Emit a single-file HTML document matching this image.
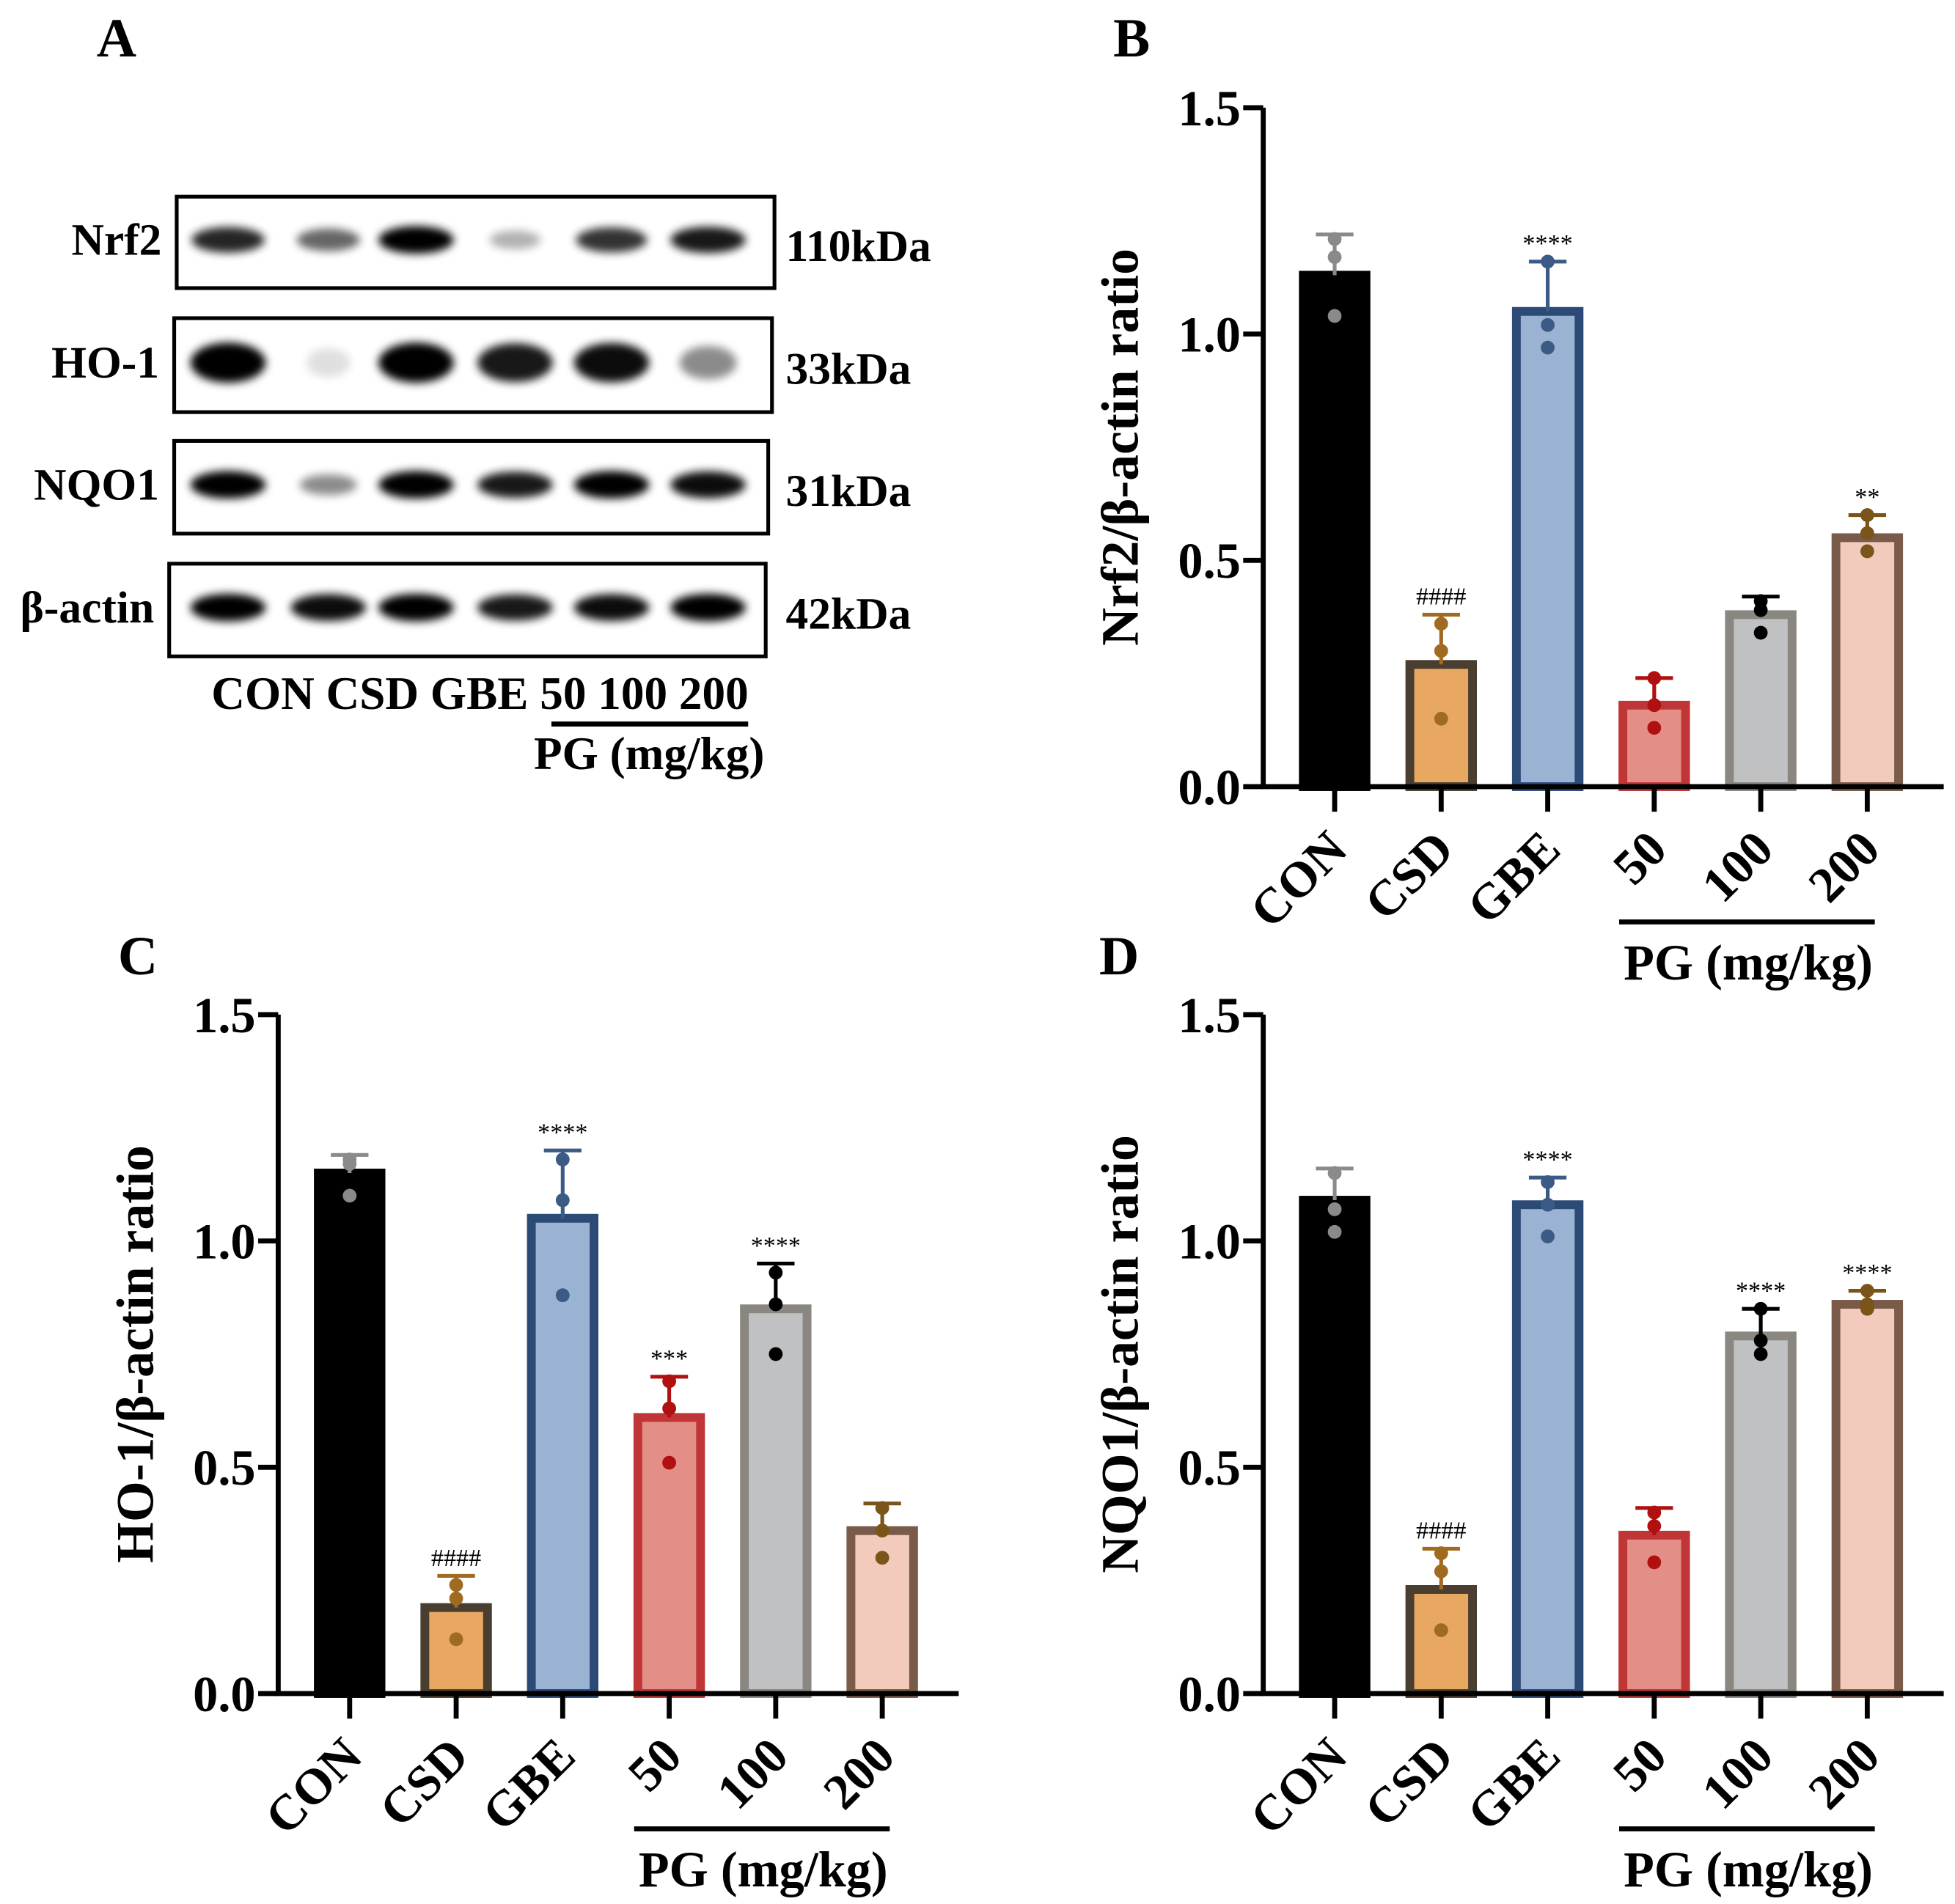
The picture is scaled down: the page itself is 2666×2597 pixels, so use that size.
<!DOCTYPE html>
<html><head><meta charset="utf-8"><style>
html,body{margin:0;padding:0;background:#fff;}
svg{display:block;font-family:"Liberation Serif",serif;font-weight:bold;}
</style></head><body>
<svg id="fig" width="2666" height="2597" viewBox="0 0 1560 1520" preserveAspectRatio="none" xmlns="http://www.w3.org/2000/svg">
<defs><filter id="blur" x="-50%" y="-100%" width="200%" height="300%"><feGaussianBlur stdDeviation="3.5"/></filter></defs>
<g id="blot"></g>
<g id="pB"></g>
<g id="pC"></g>
<g id="pD"></g>
</svg>
<script>
const categories = ["CON","CSD","GBE","50","100","200"];
const nrf2Means = [1.13,0.27,1.05,0.18,0.38,0.55];
const nrf2Err = [1.22,0.38,1.16,0.24,0.42,0.60];
const nrf2Dots = [[1.17,1.04,1.21],[0.36,0.30,0.15],[1.16,1.02,0.97],[0.24,0.18,0.13],[0.41,0.39,0.34],[0.60,0.56,0.52]];
const nrf2Sig = ["","####","****","","","**"];
const ho1Means = [1.15,0.19,1.05,0.61,0.85,0.36];
const ho1Err = [1.19,0.26,1.20,0.70,0.95,0.42];
const ho1Dots = [[1.17,1.10,1.18],[0.24,0.21,0.12],[1.18,1.09,0.88],[0.69,0.63,0.51],[0.93,0.86,0.75],[0.41,0.36,0.30]];
const ho1Sig = ["","####","****","***","****",""];
const nqo1Means = [1.09,0.23,1.08,0.35,0.79,0.86];
const nqo1Err = [1.16,0.32,1.14,0.41,0.85,0.89];
const nqo1Dots = [[1.15,1.07,1.02],[0.31,0.27,0.14],[1.13,1.08,1.01],[0.40,0.37,0.29],[0.85,0.78,0.75],[0.89,0.86,0.85]];
const nqo1Sig = ["","####","****","","****","****"];
const yTicks = [0,0.5,1.0,1.5];
const yTickLabels = ["0.0","0.5","1.0","1.5"];
const blotRows = ["Nrf2","HO-1","NQO1","β-actin"];
const blotKda = ["110kDa","33kDa","31kDa","42kDa"];
const blotIntensity = [[0.85,0.6,1.0,0.3,0.8,0.9],[1.0,0.12,1.0,0.9,0.95,0.45],[1.0,0.45,1.0,0.9,1.0,0.95],[1.0,0.95,1.0,0.9,0.95,1.0]];

const fills=["#000","#e8a862","#9bb3d3","#e38f87","#bfc1c3","#f2cbbd"];
const strokes=["#000","#4a3e30","#2b4a75","#c03535","#8a8680","#7a5a48"];
const dotCols=["#8a8a8a","#a06a20","#3b5a85","#b01010","#000","#7a5418"];
const NS="http://www.w3.org/2000/svg";
function mk(p,tag,attrs,txt){const e=document.createElementNS(NS,tag);for(const k in attrs)e.setAttribute(k,attrs[k]);if(txt!==undefined)e.textContent=txt;p.appendChild(e);return e;}

function chart(gid,ox,y0,title,letter,lx,ly,means,errs,dots,sigs){
  const g=document.getElementById(gid);
  const y1=y0-542; const ys=v=>y0-(v/1.5)*(y0-y1);
  const xs=i=>ox+57+i*85; const bw=50;
  let t=mk(g,'text',{x:lx,y:ly,'font-size':44,'text-anchor':'middle'},letter);
  
  
  means.forEach((m,i)=>{
    const b=mk(g,'rect',{x:xs(i)-bw/2,y:ys(m),width:bw,height:y0-ys(m),fill:fills[i],stroke:strokes[i],'stroke-width':7});
    
    
    const e=mk(g,'path',{d:`M${xs(i)} ${ys(m)}V${ys(errs[i])}M${xs(i)-15} ${ys(errs[i])}H${xs(i)+15}`,stroke:dotCols[i],'stroke-width':3,fill:'none'});
    
    
    dots[i].forEach(d=>{const c=mk(g,'circle',{cx:xs(i),cy:ys(d),r:5.5,fill:dotCols[i]});
      
      });
    if(sigs[i]){const s=mk(g,'text',{x:xs(i),y:ys(errs[i])-8,'font-size':20,'font-weight':'normal','text-anchor':'middle'},sigs[i]);
      
      }
    const tk=mk(g,'line',{x1:xs(i),x2:xs(i),y1:y0,y2:y0+20,stroke:'#000','stroke-width':4});
    
    
    const cl=mk(g,'text',{transform:`translate(${xs(i)+12},${y0+52}) rotate(-45)`,'font-size':40,'text-anchor':'end'},categories[i]);
    
    
  });
  const ax=mk(g,'path',{d:`M${ox} ${y1}V${y0}H${ox+543}`,stroke:'#000','stroke-width':4,fill:'none'});
  
  
  yTicks.forEach((v,k)=>{
    const l=mk(g,'line',{x1:ox-16,x2:ox,y1:ys(v),y2:ys(v),stroke:'#000','stroke-width':4});
    
    
    const tl=mk(g,'text',{x:ox-18,y:ys(v)+14,'font-size':40,'text-anchor':'end'},yTickLabels[k]);
    
    
  });
  const yt=mk(g,'text',{transform:`translate(${ox-100},${(y0+y1)/2}) rotate(-90)`,'font-size':42,'text-anchor':'middle'},title);
  
  
  const pl=mk(g,'line',{x1:xs(3)-28,x2:xs(5)+6,y1:y0+108,y2:y0+108,stroke:'#000','stroke-width':4});
  
  
  const pt=mk(g,'text',{x:xs(4)-10,y:y0+154,'font-size':40,'text-anchor':'middle'},"PG (mg/kg)");
  
  
}
chart('pB',1008,628,"Nrf2/β-actin ratio","B",903,45,nrf2Means,nrf2Err,nrf2Dots,nrf2Sig);
chart('pC',222,1352,"HO-1/β-actin ratio","C",110,778,ho1Means,ho1Err,ho1Dots,ho1Sig);
chart('pD',1008,1352,"NQO1/β-actin ratio","D",893,778,nqo1Means,nqo1Err,nqo1Dots,nqo1Sig);

(function(){
  const g=document.getElementById('blot');
  let a=mk(g,'text',{x:93,y:45,'font-size':44,'text-anchor':'middle'},"A");
  
  
  const boxes=[[141,157,477,73],[139,254,477,75],[139,352,474,74],[135,450,476,74]];
  const lanes=[182,262,332,411,488,565];
  blotRows.forEach((r,k)=>{
    const [bx,by,bw,bh]=boxes[k]; const cy=by+bh/2-2;
    blotIntensity[k].forEach((v,i)=>{
      const e=mk(g,'ellipse',{cx:lanes[i],cy:cy,rx:14+16*Math.min(1,v+0.1),ry:(k==1?11:6)+5*v,fill:'#000',opacity:v,filter:'url(#blur)'});
      
      
    });
    const b=mk(g,'rect',{x:bx,y:by,width:bw,height:bh,fill:'none',stroke:'#000','stroke-width':3});
    
    
    const l=mk(g,'text',{x:bx-12,y:cy+12,'font-size':36,'text-anchor':'end'},r);
    
    
    const kd=mk(g,'text',{x:627,y:cy+17,'font-size':36},blotKda[k]);
    
    
  });
  const ll=mk(g,'text',{x:383,y:566,'font-size':37,'text-anchor':'middle'},"CON CSD GBE 50 100 200");
  
  
  const pl=mk(g,'line',{x1:440,x2:597,y1:578,y2:578,stroke:'#000','stroke-width':4});
  
  
  const pt=mk(g,'text',{x:518,y:614,'font-size':37,'text-anchor':'middle'},"PG (mg/kg)");
  
  
})();
</script>
</body></html>
